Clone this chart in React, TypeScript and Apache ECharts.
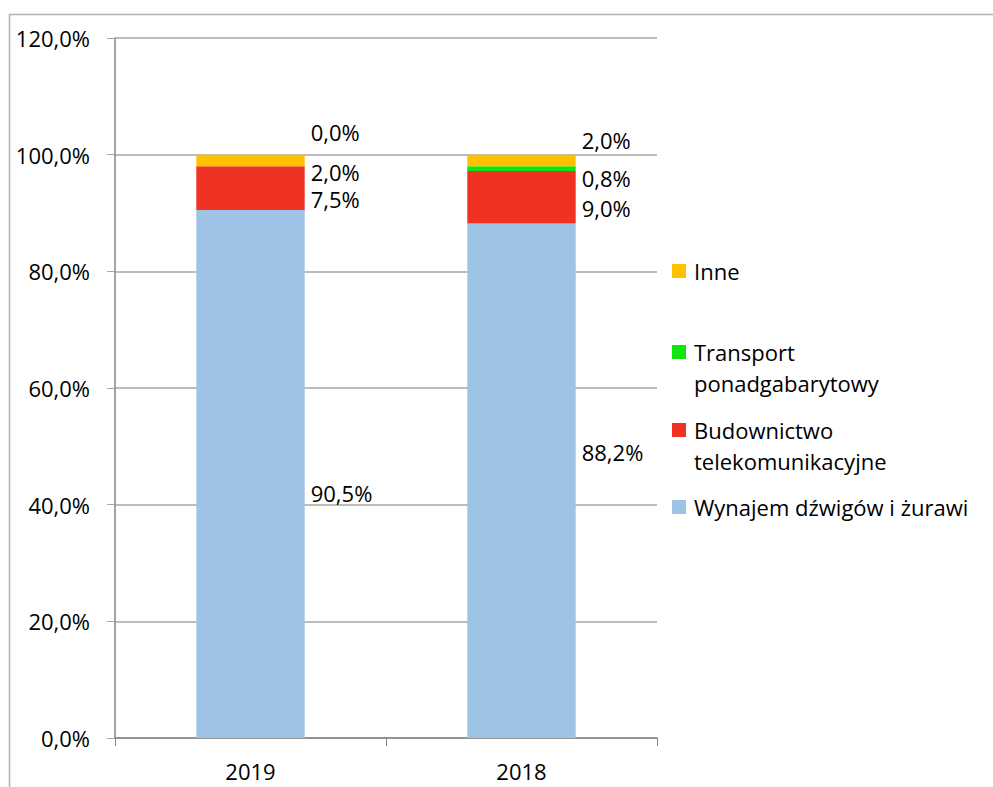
import React, { useEffect, useRef } from "react";
import * as echarts from "echarts";

const categories = ["2019", "2018"];
const seriesNames = [
  "Wynajem dźwigów i żurawi",
  "Budownictwo telekomunikacyjne",
  "Transport ponadgabarytowy",
  "Inne",
];
const wynajem = [90.5, 88.2];
const budownictwo = [7.5, 9.0];
const transport = [0.0, 0.8];
const inne = [2.0, 2.0];
const yTicks = { min: 0, max: 120, interval: 20 };

// layout-only: vertical label offsets (px) per series per category
const labelOffsets = [
  [19, -29],
  [11, 11],
  [-34, 9],
  [11.5, -20.5],
];
const colors = ["#9DC3E6", "#EE3322", "#11E611", "#FFC000"];
const legendLabels: Record<string, string> = {
  "Wynajem dźwigów i żurawi": "Wynajem dźwigów i żurawi",
  "Budownictwo telekomunikacyjne": "Budownictwo\ntelekomunikacyjne",
  "Transport ponadgabarytowy": "Transport\nponadgabarytowy",
  Inne: "Inne",
};

const FONT = "'Open Sans', sans-serif";
const FS = 22;
const LH = 31;

const fmt = (v: number) => v.toFixed(1).replace(".", ",") + "%";

export default function App() {
  const ref = useRef<HTMLDivElement>(null);
  useEffect(() => {
    if (!ref.current) return;
    const chart = echarts.init(ref.current, undefined, { renderer: "svg" });
    const values = [wynajem, budownictwo, transport, inne];
    const series = seriesNames.map((name, si) => ({
      name,
      type: "bar",
      stack: "total",
      barWidth: "40%",
      itemStyle: { color: colors[si] },
      label: {
        show: true,
        position: "right",
        distance: 6,
        color: "#000",
        fontFamily: FONT,
        fontSize: FS,
        formatter: (p: any) => fmt(p.value),
      },
      data: values[si].map((v, ci) => ({
        value: v,
        label: { offset: [0, labelOffsets[si][ci]] },
      })),
    }));

    const legendCenters: Record<string, number> = {
      Inne: 271,
      "Transport ponadgabarytowy": 352,
      "Budownictwo telekomunikacyjne": 430,
      "Wynajem dźwigów i żurawi": 507,
    };
    const legends = Object.keys(legendCenters).map((name) => {
      const multi = legendLabels[name].includes("\n");
      return {
        data: [name],
        left: 672,
        top: legendCenters[name] - LH / 2,
        orient: "vertical",
        padding: 0,
        itemWidth: 14,
        itemHeight: multi ? 45 : 14,
        selectedMode: false,
        icon: multi ? "path://M0,0 H14 V14 H0 Z M0,45 L14,45" : "rect",
        formatter: (n: string) => legendLabels[n],
        textStyle: {
          fontFamily: FONT,
          fontSize: FS,
          color: "#000",
          lineHeight: LH,
          padding: [0, 0, 0, 3],
        },
      };
    });

    chart.setOption({
      animation: false,
      backgroundColor: "#fff",
      graphic: [
        {
          type: "rect",
          shape: { x: 9.5, y: 14.5, width: 1000, height: 800 },
          style: { fill: "none", stroke: "#B4B4B4", lineWidth: 1.5 },
          silent: true,
        },
      ],
      legend: legends,
      grid: { left: 115, right: 336, top: 38, bottom: 49, containLabel: false },
      xAxis: {
        type: "category",
        data: categories,
        axisLine: { lineStyle: { color: "#868686", width: 1.5 } },
        axisTick: { show: true, length: 8, lineStyle: { color: "#868686" } },
        axisLabel: {
          color: "#000",
          fontFamily: FONT,
          fontSize: FS,
          margin: 22,
        },
      },
      yAxis: {
        type: "value",
        min: yTicks.min,
        max: yTicks.max,
        interval: yTicks.interval,
        axisLine: { show: true, lineStyle: { color: "#868686", width: 1.5 } },
        axisTick: { show: true, length: 8, lineStyle: { color: "#A6A6A6" } },
        splitLine: { show: true, lineStyle: { color: "#A6A6A6", width: 1.5 } },
        axisLabel: {
          color: "#000",
          fontFamily: FONT,
          fontSize: FS,
          margin: 25,
          formatter: (v: number) => fmt(v),
        },
      },
      series,
    });
    return () => chart.dispose();
  }, []);
  return (
    <div
      ref={ref}
      style={{ position: "fixed", left: 0, top: 0, width: 993, height: 787 }}
    />
  );
}
